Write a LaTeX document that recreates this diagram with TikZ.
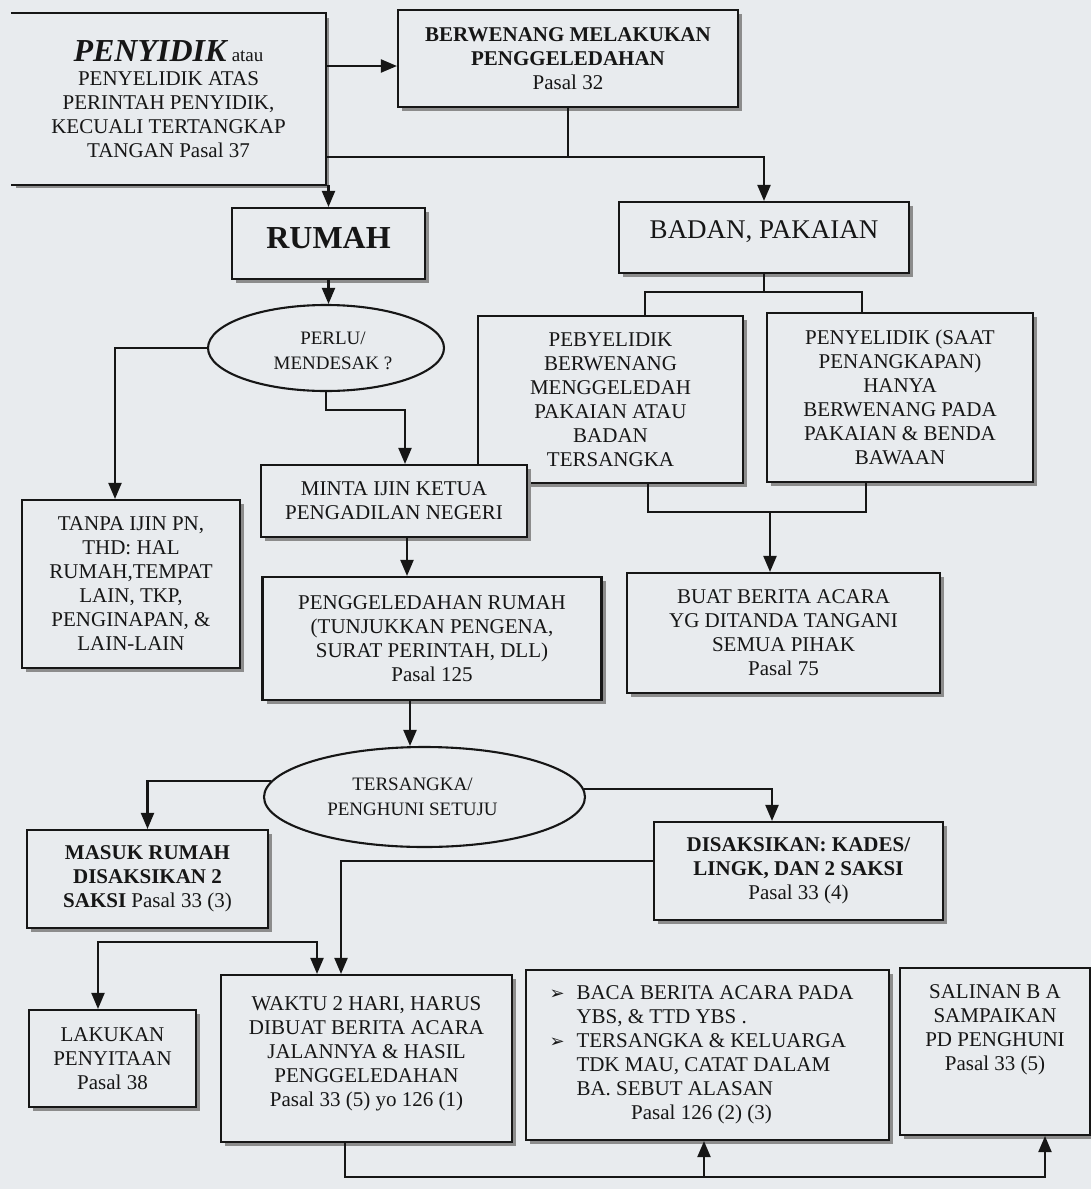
\documentclass[tikz,border=0pt]{standalone}
\usepackage{fontspec}
\setmainfont{Liberation Serif}
\newfontfamily\dingfont{DejaVu Sans}
\usetikzlibrary{arrows.meta,shapes.geometric,shadows,calc}
\definecolor{paper}{RGB}{232,235,238}
\definecolor{ink}{RGB}{22,22,22}
\newcommand{\bulletmark}{\makebox[27pt][l]{\dingfont\fontsize{18}{24}\selectfont ➢}}
\newcommand{\indentmark}{\hspace*{27pt}}

\begin{document}
\begin{tikzpicture}[x=1pt,y=-1pt,
  every node/.style={text=ink},
  txt/.style={font=\fontsize{21}{24}\selectfont, align=center},
  lbl/.style={txt},
  ovaltxt/.style={font=\fontsize{19}{25}\selectfont},
  box/.style={draw=ink, line width=2.1pt, fill=paper, inner sep=0pt, txt,
    drop shadow={shadow xshift=4pt, shadow yshift=-4pt, fill=black!45, opacity=1}},
  oval/.style={ellipse, draw=ink, line width=2.1pt, fill=paper, inner sep=0pt},
  wire/.style={draw=ink, line width=2.1pt},
  arr/.style={wire, -{Triangle[length=16pt,width=13pt]}},
  darr/.style={wire, {Triangle[length=16pt,width=13pt]}-{Triangle[length=16pt,width=13pt]}},
]
\fill[paper] (0,0) rectangle (1091,1189);
\useasboundingbox (0,0) rectangle (1091,1189);

% --- top row ---
\node[box, draw=none, minimum width=313pt, minimum height=170pt] (penyidik) at (168.5,99)
  {{\fontsize{32}{34}\selectfont\bfseries\itshape PENYIDIK} {\fontsize{19}{24}\selectfont atau}\\
   PENYELIDIK ATAS\\ PERINTAH PENYIDIK,\\ KECUALI TERTANGKAP\\ TANGAN Pasal 37};
\draw[wire] (penyidik.north west) -- (penyidik.north east) -- (penyidik.south east) -- (penyidik.south west);

\node[box, minimum width=340pt, minimum height=97pt] (berwenang) at (568,58.5)
  {\textbf{BERWENANG MELAKUKAN}\\ \textbf{PENGGELEDAHAN}\\ Pasal 32};

\node[box, minimum width=193pt, minimum height=71pt, text depth=11pt] (rumah) at (328.5,243.5)
  {\fontsize{32}{34}\selectfont\bfseries RUMAH};
\node[box, minimum width=290pt, minimum height=71pt, text depth=15pt] (badan) at (764,237.5)
  {\fontsize{27}{30}\selectfont BADAN, PAKAIAN};

% --- house branch ---
\node[oval, minimum width=236pt, minimum height=86pt,
  label={[lbl, ovaltxt, xshift=7pt, yshift=-3pt]center:{PERLU/\\ MENDESAK ?}}] (perlu) at (326,348) {};

\node[box, minimum width=218pt, minimum height=168pt] (tanpa) at (131,584)
  {TANPA IJIN PN,\\ THD: HAL\\ RUMAH,TEMPAT\\ LAIN, TKP,\\ PENGINAPAN, \&\\ LAIN-LAIN};

% --- body / clothing branch ---
\node[box, minimum width=265pt, minimum height=167pt] (pebyelidik) at (610.5,399.5)
  {PEBYELIDIK\\ BERWENANG\\ MENGGELEDAH\\ PAKAIAN ATAU\\ BADAN\\ TERSANGKA};
\node[box, minimum width=266pt, minimum height=169pt] (penyelidik) at (900,397.5)
  {PENYELIDIK (SAAT\\ PENANGKAPAN)\\ HANYA\\ BERWENANG PADA\\ PAKAIAN \& BENDA\\ BAWAAN};

\node[box, minimum width=266pt, minimum height=72pt] (minta) at (394,501)
  {MINTA IJIN KETUA\\ PENGADILAN NEGERI};
\node[box, minimum width=339pt, minimum height=123pt] (geledah) at (432,638.5)
  {PENGGELEDAHAN RUMAH\\ (TUNJUKKAN PENGENA,\\ SURAT PERINTAH, DLL)\\ Pasal 125};
\node[box, minimum width=313pt, minimum height=120pt] (buat) at (783.5,633)
  {BUAT BERITA ACARA\\ YG DITANDA TANGANI\\ SEMUA PIHAK\\ Pasal 75};

% --- consent ---
\node[oval, minimum width=321pt, minimum height=100pt,
  label={[lbl, ovaltxt, xshift=-12pt]center:{TERSANGKA/\\ PENGHUNI SETUJU}}] (setuju) at (424.5,797) {};

\node[box, minimum width=241pt, minimum height=98pt] (masuk) at (147.5,879)
  {\textbf{MASUK RUMAH}\\ \textbf{DISAKSIKAN 2}\\ \textbf{SAKSI} Pasal 33 (3)};
\node[box, minimum width=289pt, minimum height=98pt] (saksi) at (798.5,871)
  {\textbf{DISAKSIKAN: KADES/}\\ \textbf{LINGK, DAN 2 SAKSI}\\ Pasal 33 (4)};

% --- bottom row ---
\node[box, minimum width=167pt, minimum height=97pt] (lakukan) at (112.5,1058.5)
  {LAKUKAN\\ PENYITAAN\\ Pasal 38};
\node[box, minimum width=291pt, minimum height=167pt,
  label={[lbl, yshift=5pt]center:{WAKTU 2 HARI, HARUS\\ DIBUAT BERITA ACARA\\ JALANNYA \& HASIL\\ PENGGELEDAHAN\\ Pasal 33 (5) yo 126 (1)}}] (waktu) at (366.5,1058.5) {};
\node[box, minimum width=363pt, minimum height=170pt] (baca) at (707.5,1055)
  {\begin{tabular}{@{}l@{}}
   \bulletmark BACA BERITA ACARA PADA\\
   \indentmark YBS, \& TTD YBS .\\
   \bulletmark TERSANGKA \& KELUARGA\\
   \indentmark TDK MAU, CATAT DALAM\\
   \indentmark BA. SEBUT ALASAN\\
   \multicolumn{1}{@{}c@{}}{Pasal 126 (2) (3)}
   \end{tabular}\hspace*{12pt}};
\node[box, minimum width=190pt, minimum height=167pt,
  label={[lbl, yshift=22pt]center:{SALINAN B A\\ SAMPAIKAN\\ PD PENGHUNI\\ Pasal 33 (5)}}] (salinan) at (995,1051.5) {};

% --- connectors ---
\draw[arr] (penyidik.east |- 0,66) -- (berwenang.west |- 0,66);
\draw[arr] (penyidik.east |- 0,157) -| (badan.north);
\draw[wire] (berwenang.south) -- (berwenang.south |- 0,157);
\draw[arr] (rumah.north |- penyidik.south) -- (rumah.north);
\draw[arr] (rumah.south) -- (rumah.south |- perlu.north);
\draw[arr] (perlu.west) -| (tanpa.north -| 115,0);
\draw[arr] (perlu.south) -- (perlu.south |- 0,410) -| (minta.north -| 405,0);
\draw[arr] (minta.south -| 407,0) -- (geledah.north -| 407,0);
\draw[arr] (geledah.south -| 410,0) -- (setuju.north -| 410,0);

\coordinate (split) at (badan.south |- 0,292);
\draw[wire] (badan.south) -- (split);
\draw[wire] (pebyelidik.north -| 645,0) |- (split) -| (penyelidik.north -| 862,0);
\coordinate (merge) at (770,512);
\draw[wire] (pebyelidik.south -| 648,0) |- (merge) -| (penyelidik.south -| 866,0);
\draw[arr] (merge) -- (buat.north -| merge);

\draw[arr] (setuju.174) -| (masuk.north);
\draw[arr] (setuju.3) -| (saksi.north -| 772,0);
\draw[arr] (saksi.west |- 0,861) -| (waktu.north -| 341,0);
\draw[darr] (lakukan.north -| 98,0) -- ++(0,-67) -| (waktu.north -| 317,0);

\coordinate (feed) at (704,1177);
\draw[arr] (waktu.south -| 345,0) |- (feed) -| (salinan.south -| 1045,0);
\draw[arr] (feed) -- (baca.south -| feed);
\end{tikzpicture}
\end{document}
